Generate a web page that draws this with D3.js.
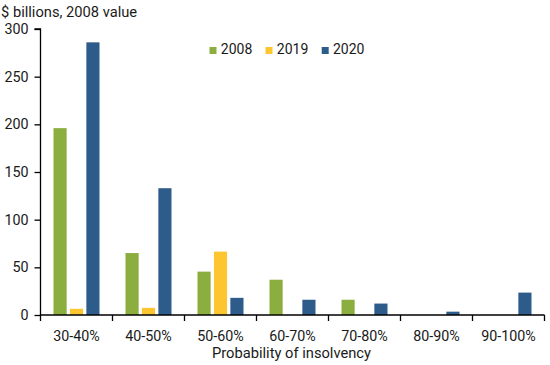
<!DOCTYPE html>
<html><head><meta charset="utf-8">
<script src="https://cdn.jsdelivr.net/npm/d3@7"></script>
<style>
body{margin:0;background:#fff;}
text{font-family:Roboto,"Liberation Sans",sans-serif;fill:#1a1a1a;}
</style></head>
<body><svg id="c" width="550" height="365"></svg>
<script>
const categories = ["30-40%","40-50%","50-60%","60-70%","70-80%","80-90%","90-100%"];
const seriesNames = ["2008","2019","2020"];
const values2008 = [196, 65, 45.5, 37, 16, 0, 0];
const values2019 = [6.5, 7.5, 66.5, 0, 0, 0, 0];
const values2020 = [286, 133, 18, 16, 12, 3.5, 23.5];
const yTicks = [0,50,100,150,200,250,300];
const colors = ["#8BAE3F","#FDC52F","#2D5C8A"];

const seriesValues = [values2008, values2019, values2020];
const svg = d3.select("#c");
const L = 40.5, R = 544.5, T = 29, B = 315;

const x0 = d3.scaleBand().domain(categories).range([L, R]).padding(0);
const x1 = d3.scaleBand().domain(seriesNames).range([13, 59]).paddingInner(0.2);
const y = d3.scaleLinear().domain([0, 300]).range([B, T]);

// bars
seriesNames.forEach((s, si) => {
  svg.append("g").selectAll("rect")
    .data(categories.map((c, i) => ({c, v: seriesValues[si][i]})).filter(d => d.v > 0))
    .join("rect")
    .attr("x", d => x0(d.c) + x1(s))
    .attr("width", x1.bandwidth())
    .attr("y", d => y(d.v))
    .attr("height", d => B - y(d.v))
    .attr("fill", colors[si]);
});

// y axis
const ya = svg.append("g").attr("transform", `translate(${L},0)`)
  .call(d3.axisLeft(y).tickValues(yTicks).tickSize(6).tickPadding(6));
ya.select(".domain").attr("stroke", "#000").attr("stroke-width", 1.3).attr("d", `M-6,${T}H0V${B}`);
ya.selectAll(".tick line").attr("stroke", "#000").attr("stroke-width", 1.3);
ya.selectAll(".tick text").attr("font-size", 14.3).attr("fill", "#1a1a1a").attr("font-family", "Roboto");

// x axis
const xa = svg.append("g").attr("transform", `translate(0,${B})`);
xa.append("line").attr("x1", L).attr("x2", R).attr("y1", 0).attr("y2", 0).attr("stroke", "#000").attr("stroke-width", 1.3);
const bounds = categories.map(c => x0(c)).concat([R]);
xa.selectAll("line.t").data(bounds).join("line").attr("class","t")
  .attr("x1", d => d).attr("x2", d => d).attr("y1", 0).attr("y2", 6)
  .attr("stroke", "#000").attr("stroke-width", 1.3);
xa.selectAll("text").data(categories).join("text")
  .attr("x", d => x0(d) + x0.bandwidth()/2).attr("y", 26)
  .attr("text-anchor", "middle").attr("font-size", 14.3).text(d => d);

svg.append("text").attr("x", (L+R)/2 - 1).attr("y", 358).attr("text-anchor","middle")
  .attr("font-size", 14.7).text("Probability of insolvency");

svg.append("text").attr("x", 1).attr("y", 17).attr("font-size", 14.7).text("$ billions, 2008 value");

// legend
const leg = svg.append("g");
const legX = [209.5, 265.5, 321.7];
seriesNames.forEach((s, i) => {
  leg.append("rect").attr("x", legX[i]).attr("y", 47).attr("width", 7).attr("height", 7).attr("fill", colors[i]);
  leg.append("text").attr("x", legX[i] + 11.3).attr("y", 54).attr("font-size", 14).text(s);
});
</script></body></html>
